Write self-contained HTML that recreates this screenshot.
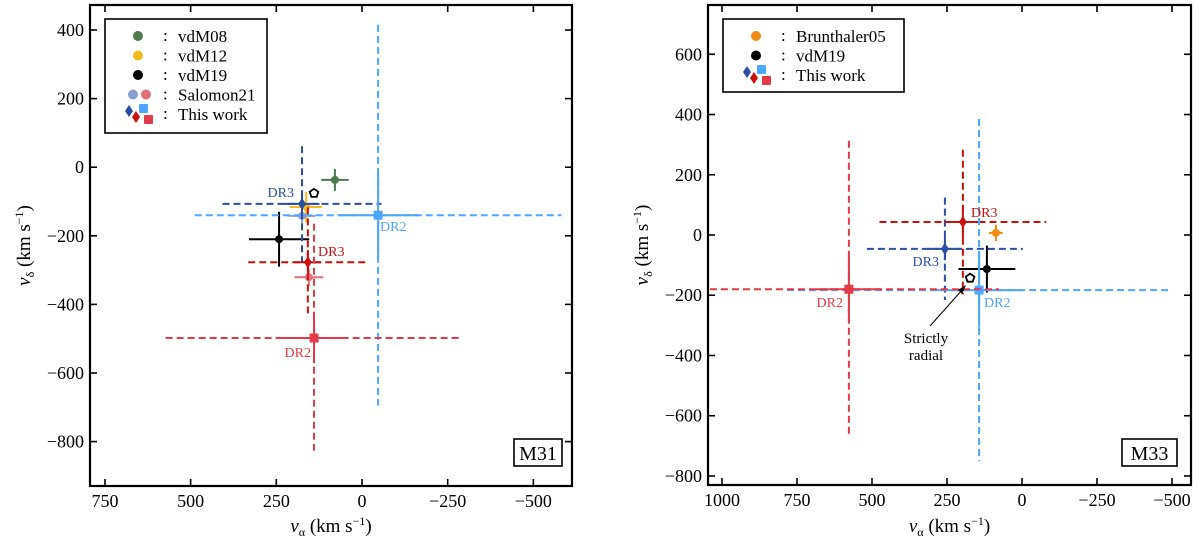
<!DOCTYPE html>
<html><head><meta charset="utf-8"><style>
body{margin:0;background:#fff;width:1200px;height:546px;overflow:hidden}
svg{font-family:"Liberation Serif",serif}
</style></head><body>
<svg id="c" width="1200" height="546" xmlns="http://www.w3.org/2000/svg"></svg>
<script>
// ---- M31 data ----
const m31Names=["vdM08","vdM12","vdM19","Salomon21-blue","Salomon21-red","DR3-blue","DR3-red","DR2-lightblue","DR2-red"];
const m31Va=[79,163,242,175,155,175,158,-47,140];
const m31Vd=[-37,-116,-210,-142,-321,-107,-277,-140,-498];
const m31ErrA=[40,47,88,39,42,232,174,535,433];
const m31ErrD=[32,44,80,20,25,168,160,555,333];
const m31Radial=[140,-76];
// ---- M33 data ----
const m33Names=["Brunthaler05","vdM19","DR3-blue","DR3-red","DR2-lightblue","DR2-red"];
const m33Va=[87,117,257,197,143,577];
const m33Vd=[7,-113,-46,43,-183,-180];
const m33ErrA=[23,95,260,278,640,500];
const m33ErrD=[27,78,170,240,568,493];
const m33Radial=[173,-143];
const xTicks=[750,500,250,0,-250,-500];
const xTicks33=[1000,750,500,250,0,-250,-500];
const yTicks31=[400,200,0,-200,-400,-600,-800];
const yTicks33=[600,400,200,0,-200,-400,-600,-800];

const NS="http://www.w3.org/2000/svg";
const svg=document.getElementById('c');
function el(tag,attrs,parent,text){const e=document.createElementNS(NS,tag);for(const k in attrs)e.setAttribute(k,attrs[k]);if(text!==undefined)e.textContent=text;(parent||svg).appendChild(e);return e;}
function fmt(v){return v<0?"\u2212"+(-v):String(v);}

const styles={
 "vdM08":{c:"#4f7a4f",m:"circle",dash:false},
 "vdM12":{c:"#f2bd1d",m:"circle",dash:false},
 "vdM19":{c:"#000",m:"circle",dash:false},
 "Brunthaler05":{c:"#f28a16",m:"circle",dash:false},
 "Salomon21-blue":{c:"#8a9fd1",m:"circle",dash:false},
 "Salomon21-red":{c:"#e0707a",m:"circle",dash:false},
 "DR3-blue":{c:"#2b4ea3",m:"diamond",dash:true},
 "DR3-red":{c:"#c8120e",m:"diamond",dash:true},
 "DR2-lightblue":{c:"#4da6ff",m:"square",dash:true},
 "DR2-red":{c:"#e23a48",m:"square",dash:true}
};

function panel(o){
 const g=el('g',{},svg);
 
 
 const X=v=>o.x0-v*o.sx, Y=v=>o.y0-v*o.sy;
 const cid=o.id+'-clip';
 const defs=el('defs',{},g);const cp=el('clipPath',{id:cid},defs);
 el('rect',{x:o.L,y:o.T,width:o.R-o.L,height:o.B-o.T},cp);
 const plot=el('g',{'clip-path':`url(#${cid})`},g);
 
 
 o.names.forEach((n,i)=>{
  const s=styles[n];const cx=X(o.va[i]),cy=Y(o.vd[i]);
  const eg=el('g',{},plot);
  
  
  const da=s.dash?{'stroke-dasharray':'7,4'}:{};
  el('line',Object.assign({x1:X(o.va[i]+o.ea[i]),x2:X(o.va[i]-o.ea[i]),y1:cy,y2:cy,stroke:s.c,'stroke-width':2},da),eg);
  el('line',Object.assign({x1:cx,x2:cx,y1:Y(o.vd[i]+o.ed[i]),y2:Y(o.vd[i]-o.ed[i]),stroke:s.c,'stroke-width':2},da),eg);
  if(s.dash){
   const ia=o.ea[i]*0.22,id=o.ed[i]*0.22;
   el('line',{x1:X(o.va[i]+ia),x2:X(o.va[i]-ia),y1:cy,y2:cy,stroke:s.c,'stroke-width':2},eg);
   el('line',{x1:cx,x2:cx,y1:Y(o.vd[i]+id),y2:Y(o.vd[i]-id),stroke:s.c,'stroke-width':2},eg);
  }
  if(s.m==='circle')el('circle',{cx:cx,cy:cy,r:4,fill:s.c},eg);
  else if(s.m==='square')el('rect',{x:cx-4.5,y:cy-4.5,width:9,height:9,fill:s.c},eg);
  else el('polygon',{points:`${cx},${cy-6} ${cx+4},${cy} ${cx},${cy+6} ${cx-4},${cy}`,fill:s.c},eg);
 });
 const px=X(o.rad[0]),py=Y(o.rad[1]);let pts=[];
 for(let k=0;k<5;k++){const a=-Math.PI/2+k*2*Math.PI/5;pts.push((px+4.5*Math.cos(a)).toFixed(1)+','+(py+4.5*Math.sin(a)).toFixed(1));}
 const pg=el('polygon',{points:pts.join(' '),fill:'#fff',stroke:'#000','stroke-width':1.8},plot);
 
 
 o.labels.forEach(l=>{const t=el('text',{x:l[0],y:l[1],fill:l[3],'font-size':14,'text-anchor':l[4]},g,l[2]);
  
  });
 const fr=el('rect',{x:o.L,y:o.T,width:o.R-o.L,height:o.B-o.T,fill:'none',stroke:'#000','stroke-width':2.2},g);
 
 
 o.xt.forEach(v=>{const x=X(v);
  el('line',{x1:x,x2:x,y1:o.B,y2:o.B-7,stroke:'#000','stroke-width':1.6},g);
  el('line',{x1:x,x2:x,y1:o.T,y2:o.T+7,stroke:'#000','stroke-width':1.6},g);
  const t=el('text',{x:x,y:o.B+21,'font-size':18,'text-anchor':'middle'},g,fmt(v));
  
  });
 o.yt.forEach(v=>{const y=Y(v);
  el('line',{x1:o.L,x2:o.L+7,y1:y,y2:y,stroke:'#000','stroke-width':1.6},g);
  el('line',{x1:o.R,x2:o.R-7,y1:y,y2:y,stroke:'#000','stroke-width':1.6},g);
  const t=el('text',{x:o.L-6,y:y+6,'font-size':18,'text-anchor':'end'},g,fmt(v));
  
  });
 const xl=el('text',{x:(o.L+o.R)/2,y:532,'font-size':19,'text-anchor':'middle'},g);
 
 
 xl.innerHTML='<tspan font-style="italic">v</tspan><tspan font-size="12" dy="4">α</tspan><tspan dy="-4"> (km s</tspan><tspan font-size="12" dy="-7">−1</tspan><tspan dy="7">)</tspan>';
 const yc=(o.T+o.B)/2;
 const yl=el('text',{x:0,y:0,'font-size':19,'text-anchor':'middle',transform:`translate(${o.ylx},${yc}) rotate(-90)`},g);
 
 
 yl.innerHTML='<tspan font-style="italic">v</tspan><tspan font-size="12" dy="4">δ</tspan><tspan dy="-4"> (km s</tspan><tspan font-size="12" dy="-7">−1</tspan><tspan dy="7">)</tspan>';
 const gb=el('g',{},g);
 
 
 el('rect',{x:o.gx,y:439,width:o.gw,height:27,fill:'#fff',stroke:'#000','stroke-width':1.6},gb);
 el('text',{x:o.gx+o.gw/2,y:460,'font-size':20,'text-anchor':'middle'},gb,o.id.toUpperCase());
 const lg=el('g',{},g);
 
 
 el('rect',{x:o.lx,y:o.ly,width:o.lw,height:o.lh,fill:'#fff',stroke:'#000','stroke-width':1.6},lg);
 o.leg.forEach((e,i)=>{const y=o.ly+17+i*19.5;const mx=o.lx+33;
  const le=el('g',{},lg);
  
  
  if(e[1]==='combo'){
   el('polygon',{points:`${mx-9},${y-9} ${mx-5},${y-3} ${mx-9},${y+3} ${mx-13},${y-3}`,fill:'#2b4ea3'},le);
   el('polygon',{points:`${mx-2},${y-3} ${mx+2},${y+3} ${mx-2},${y+9} ${mx-6},${y+3}`,fill:'#c8120e'},le);
   el('rect',{x:mx+1,y:y-10,width:9,height:9,rx:1,fill:'#4da6ff'},le);
   el('rect',{x:mx+6,y:y+1,width:9,height:9,rx:1,fill:'#e23a48'},le);
  }else if(e[1]==='pair'){
   el('circle',{cx:mx-5,cy:y,r:5,fill:'#8a9fd1'},le);
   el('circle',{cx:mx+8,cy:y,r:5,fill:'#e0707a'},le);
  }else el('circle',{cx:mx,cy:y,r:5,fill:e[1]},le);
  el('text',{x:o.lx+58,y:y+5,'font-size':17},le,':');
  el('text',{x:o.lx+73,y:y+6,'font-size':17},le,e[0]);
 });
 return {X,Y};
}

const p1=panel({id:'m31',L:90,R:572,T:5,B:486,x0:362,sx:0.3427,y0:167.2,sy:0.343,
 names:m31Names,va:m31Va,vd:m31Vd,ea:m31ErrA,ed:m31ErrD,rad:m31Radial,xt:xTicks,yt:yTicks31,ylx:30,gx:514,gw:48,
 labels:[[294,197,'DR3','#2b4ea3','end'],[318,256,'DR3','#c8120e','start'],[380,231,'DR2','#4da6ff','start'],[311,357,'DR2','#e23a48','end']],
 lx:105,ly:19,lw:162,lh:114,
 leg:[['vdM08','#4f7a4f'],['vdM12','#f2bd1d'],['vdM19','#000'],['Salomon21','pair'],['This work','combo']]});
const p2=panel({id:'m33',L:708,R:1191,T:5,B:485,x0:1022,sx:0.3,y0:235,sy:0.3012,
 names:m33Names,va:m33Va,vd:m33Vd,ea:m33ErrA,ed:m33ErrD,rad:m33Radial,xt:xTicks33,yt:yTicks33,ylx:648,gx:1122,gw:55,
 labels:[[971,217,'DR3','#c8120e','start'],[939,266,'DR3','#2b4ea3','end'],[843,307,'DR2','#e23a48','end'],[984,307,'DR2','#4da6ff','start']],
 lx:723,ly:19,lw:181,lh:73,
 leg:[['Brunthaler05','#f28a16'],['vdM19','#000'],['This work','combo']]});
const an=el('g',{},svg);


el('line',{x1:930,y1:326,x2:963,y2:289,stroke:'#000','stroke-width':1},an);
el('polygon',{points:'966,285 958,290 962,294',fill:'#000'},an);
el('text',{x:926,y:343,'font-size':15,'text-anchor':'middle'},an,'Strictly');
el('text',{x:926,y:360,'font-size':15,'text-anchor':'middle'},an,'radial');
</script>
</body></html>
